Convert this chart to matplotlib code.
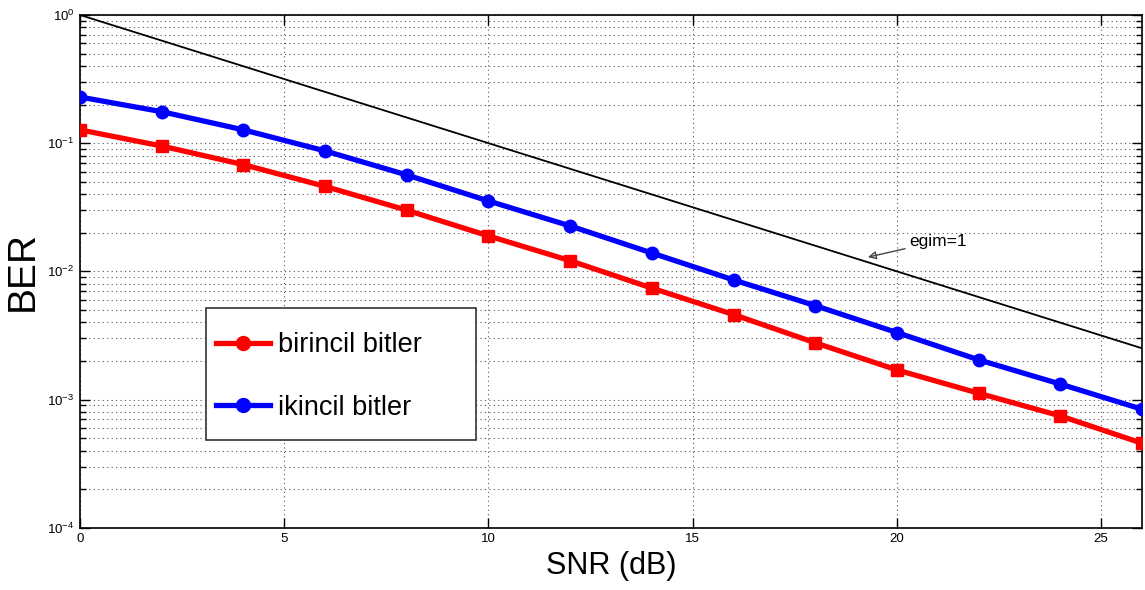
import matplotlib
matplotlib.use("Agg")
import matplotlib.pyplot as plt
from matplotlib.lines import Line2D
from matplotlib.patches import Rectangle
from matplotlib.ticker import LogLocator, FixedLocator, NullFormatter

plt.rcParams['font.family'] = ['Liberation Sans', 'DejaVu Sans']
plt.rcParams['mathtext.fontset'] = 'custom'
plt.rcParams['mathtext.rm'] = 'Liberation Sans'
plt.rcParams['mathtext.it'] = 'Liberation Sans'

snr = [0, 2, 4, 6, 8, 10, 12, 14, 16, 18, 20, 22, 24, 26]
ber_birincil = [0.127, 0.095, 0.068, 0.046, 0.030, 0.0189, 0.0121, 0.0074,
                0.0046, 0.00277, 0.0017, 0.00112, 0.000745, 0.000456]
ber_ikincil = [0.229, 0.176, 0.127, 0.087, 0.0565, 0.0354, 0.0226, 0.0139,
               0.00857, 0.0054, 0.00333, 0.00204, 0.00132, 0.00084]
ref_snr = [0, 26]
ref_ber = [1.0, 0.00251]

labels = ['birincil bitler', 'ikincil bitler']
colors = ['#ff0000', '#0000ff']

fig = plt.figure(figsize=(11.45, 5.90), dpi=100)
ax = fig.add_axes([0.0699, 0.1056, 0.9275, 0.869])

ax.plot(ref_snr, ref_ber, color='black', lw=1.3, zorder=3)
ax.plot(snr, ber_birincil, color=colors[0], lw=3.8, marker='s', ms=9, zorder=4)
ax.plot(snr, ber_ikincil, color=colors[1], lw=3.8, marker='o', ms=9, zorder=4)

ax.set_yscale('log')
ax.set_xlim(0, 26)
ax.set_ylim(1e-4, 1)
ax.set_xticks([0, 5, 10, 15, 20, 25])
ax.yaxis.set_major_locator(FixedLocator([1e-4, 1e-3, 1e-2, 1e-1, 1]))
ax.yaxis.set_minor_locator(LogLocator(base=10, subs=range(2, 10), numticks=20))
ax.yaxis.set_minor_formatter(NullFormatter())

ax.grid(True, which='major', axis='both', linestyle=(0, (1, 3)), color='#555555', lw=0.8)
ax.grid(True, which='minor', axis='y', linestyle=(0, (1, 3)), color='#555555', lw=0.8)

ax.tick_params(which='both', direction='in', top=True, right=True, labelsize=9.5,
               pad=4, width=1)
ax.tick_params(which='major', length=7)
ax.tick_params(which='minor', length=4)
for s in ax.spines.values():
    s.set_linewidth(1.2)

ax.set_xlabel('SNR (dB)', fontsize=22, labelpad=4)
ax.set_ylabel('BER', fontsize=28, labelpad=5)

ax.annotate('egim=1', xy=(19.29, 0.0129), xytext=(20.3, 0.0172),
            fontsize=12.5, va='center', ha='left',
            arrowprops=dict(arrowstyle='-|>', color='#444444', lw=1, shrinkA=1, shrinkB=0,
                            mutation_scale=12, fill=False))

# legend frame drawn as a box, entries placed inside
box = Rectangle((0.1186, 0.171), 0.2542, 0.2575, transform=ax.transAxes,
                facecolor='white', edgecolor='#333333', lw=1.2, zorder=5)
ax.add_patch(box)

handles = [Line2D([], [], color=c, lw=3.8, marker='o', ms=10) for c in colors]
leg = ax.legend(handles, labels, loc='center left', bbox_to_anchor=(0.128, 0.295),
                fontsize=19.5, frameon=False,
                handlelength=2.0, labelspacing=1.35, borderpad=0.0, handletextpad=0.3,
                borderaxespad=0)
leg.set_zorder(6)

fig.savefig('out.png', dpi=100, facecolor='white')
